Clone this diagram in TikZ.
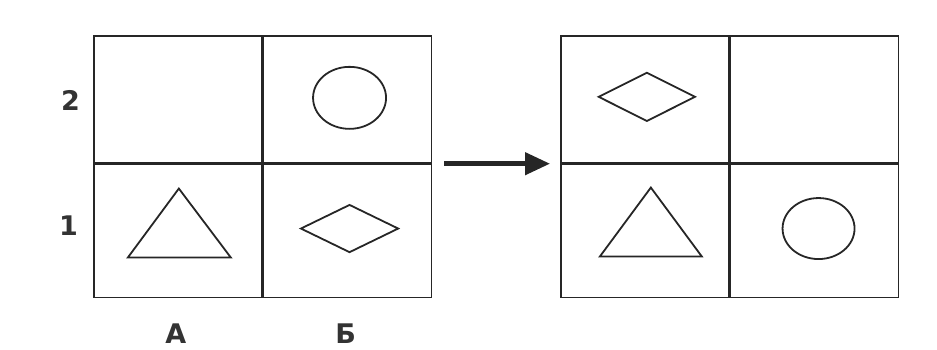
\documentclass[tikz,border=0pt]{standalone}
\usepackage{fontspec}
\newfontfamily\lblfont{DejaVu Sans}
\usetikzlibrary{positioning, shapes.geometric, arrows.meta}

\begin{document}
\begin{tikzpicture}[x=1pt, y=1pt, >={Triangle[length=25pt, width=22pt]}, node distance=0pt,
  cell/.style={draw=black!85, line width=1.7pt, minimum width=168pt, inner sep=0pt},
  toprow/.style={cell, minimum height=127pt},
  botrow/.style={cell, minimum height=133pt},
  fig/.style={draw=black!85, line width=1.8pt, inner sep=0pt},
  roundfig/.style={fig, ellipse, minimum width=73pt, minimum height=62pt},
  rhombfig/.style={fig, diamond, minimum width=98pt, minimum height=48pt},
  lbl/.style={inner sep=0pt, text=black!80, font={\lblfont\bfseries\fontsize{27pt}{27pt}\selectfont}}]

  \useasboundingbox (0,0) rectangle (937,349);

  \node[toprow, anchor=north west] (lA2) at (93,314) {};
  \node[toprow, right=of lA2] (lB2) {};
  \node[botrow, below=of lA2] (lA1) {};
  \node[botrow, below=of lB2] (lB1) {};

  \node[toprow, anchor=north west] (rA2) at (560,314) {};
  \node[toprow, right=of rA2] (rB2) {};
  \node[botrow, below=of rA2] (rA1) {};
  \node[botrow, below=of rB2] (rB1) {};

  \node[lbl, left=13pt of lA2, yshift=-1.5pt] (row2) {2};
  \node[lbl, left=15pt of lA1, yshift=5pt] (row1) {1};
  \node[lbl, below=25pt of lA1, xshift=-2pt] (colA) {А};
  \node[lbl, below=25pt of lB1, xshift=-2pt] (colB) {Б};

  \node[roundfig] (circL) at ([shift={(2,1.5)}]lB2.center) {};
  \node[rhombfig] (rhombL) at ([shift={(2,2.5)}]lB1.center) {};
  \draw[fig] ([shift={(-50,-26.5)}]lA1.center) -- ([shift={(53,-26.5)}]lA1.center)
    -- ([shift={(1,42.5)}]lA1.center) -- cycle;

  \node[rhombfig, minimum width=97pt, minimum height=49pt] (rhombR) at ([shift={(2,2.5)}]rA2.center) {};
  \draw[fig] ([shift={(-45,-25.5)}]rA1.center) -- ([shift={(57,-25.5)}]rA1.center)
    -- ([shift={(6,43.5)}]rA1.center) -- cycle;
  \node[roundfig, minimum width=72pt, minimum height=61pt] (circR) at ([shift={(4,2.5)}]rB1.center) {};

  \draw[->, line width=4.5pt, black!85, shorten <=12pt, shorten >=10pt] (lB1.north east) -- (rA1.north west);
\end{tikzpicture}
\end{document}
